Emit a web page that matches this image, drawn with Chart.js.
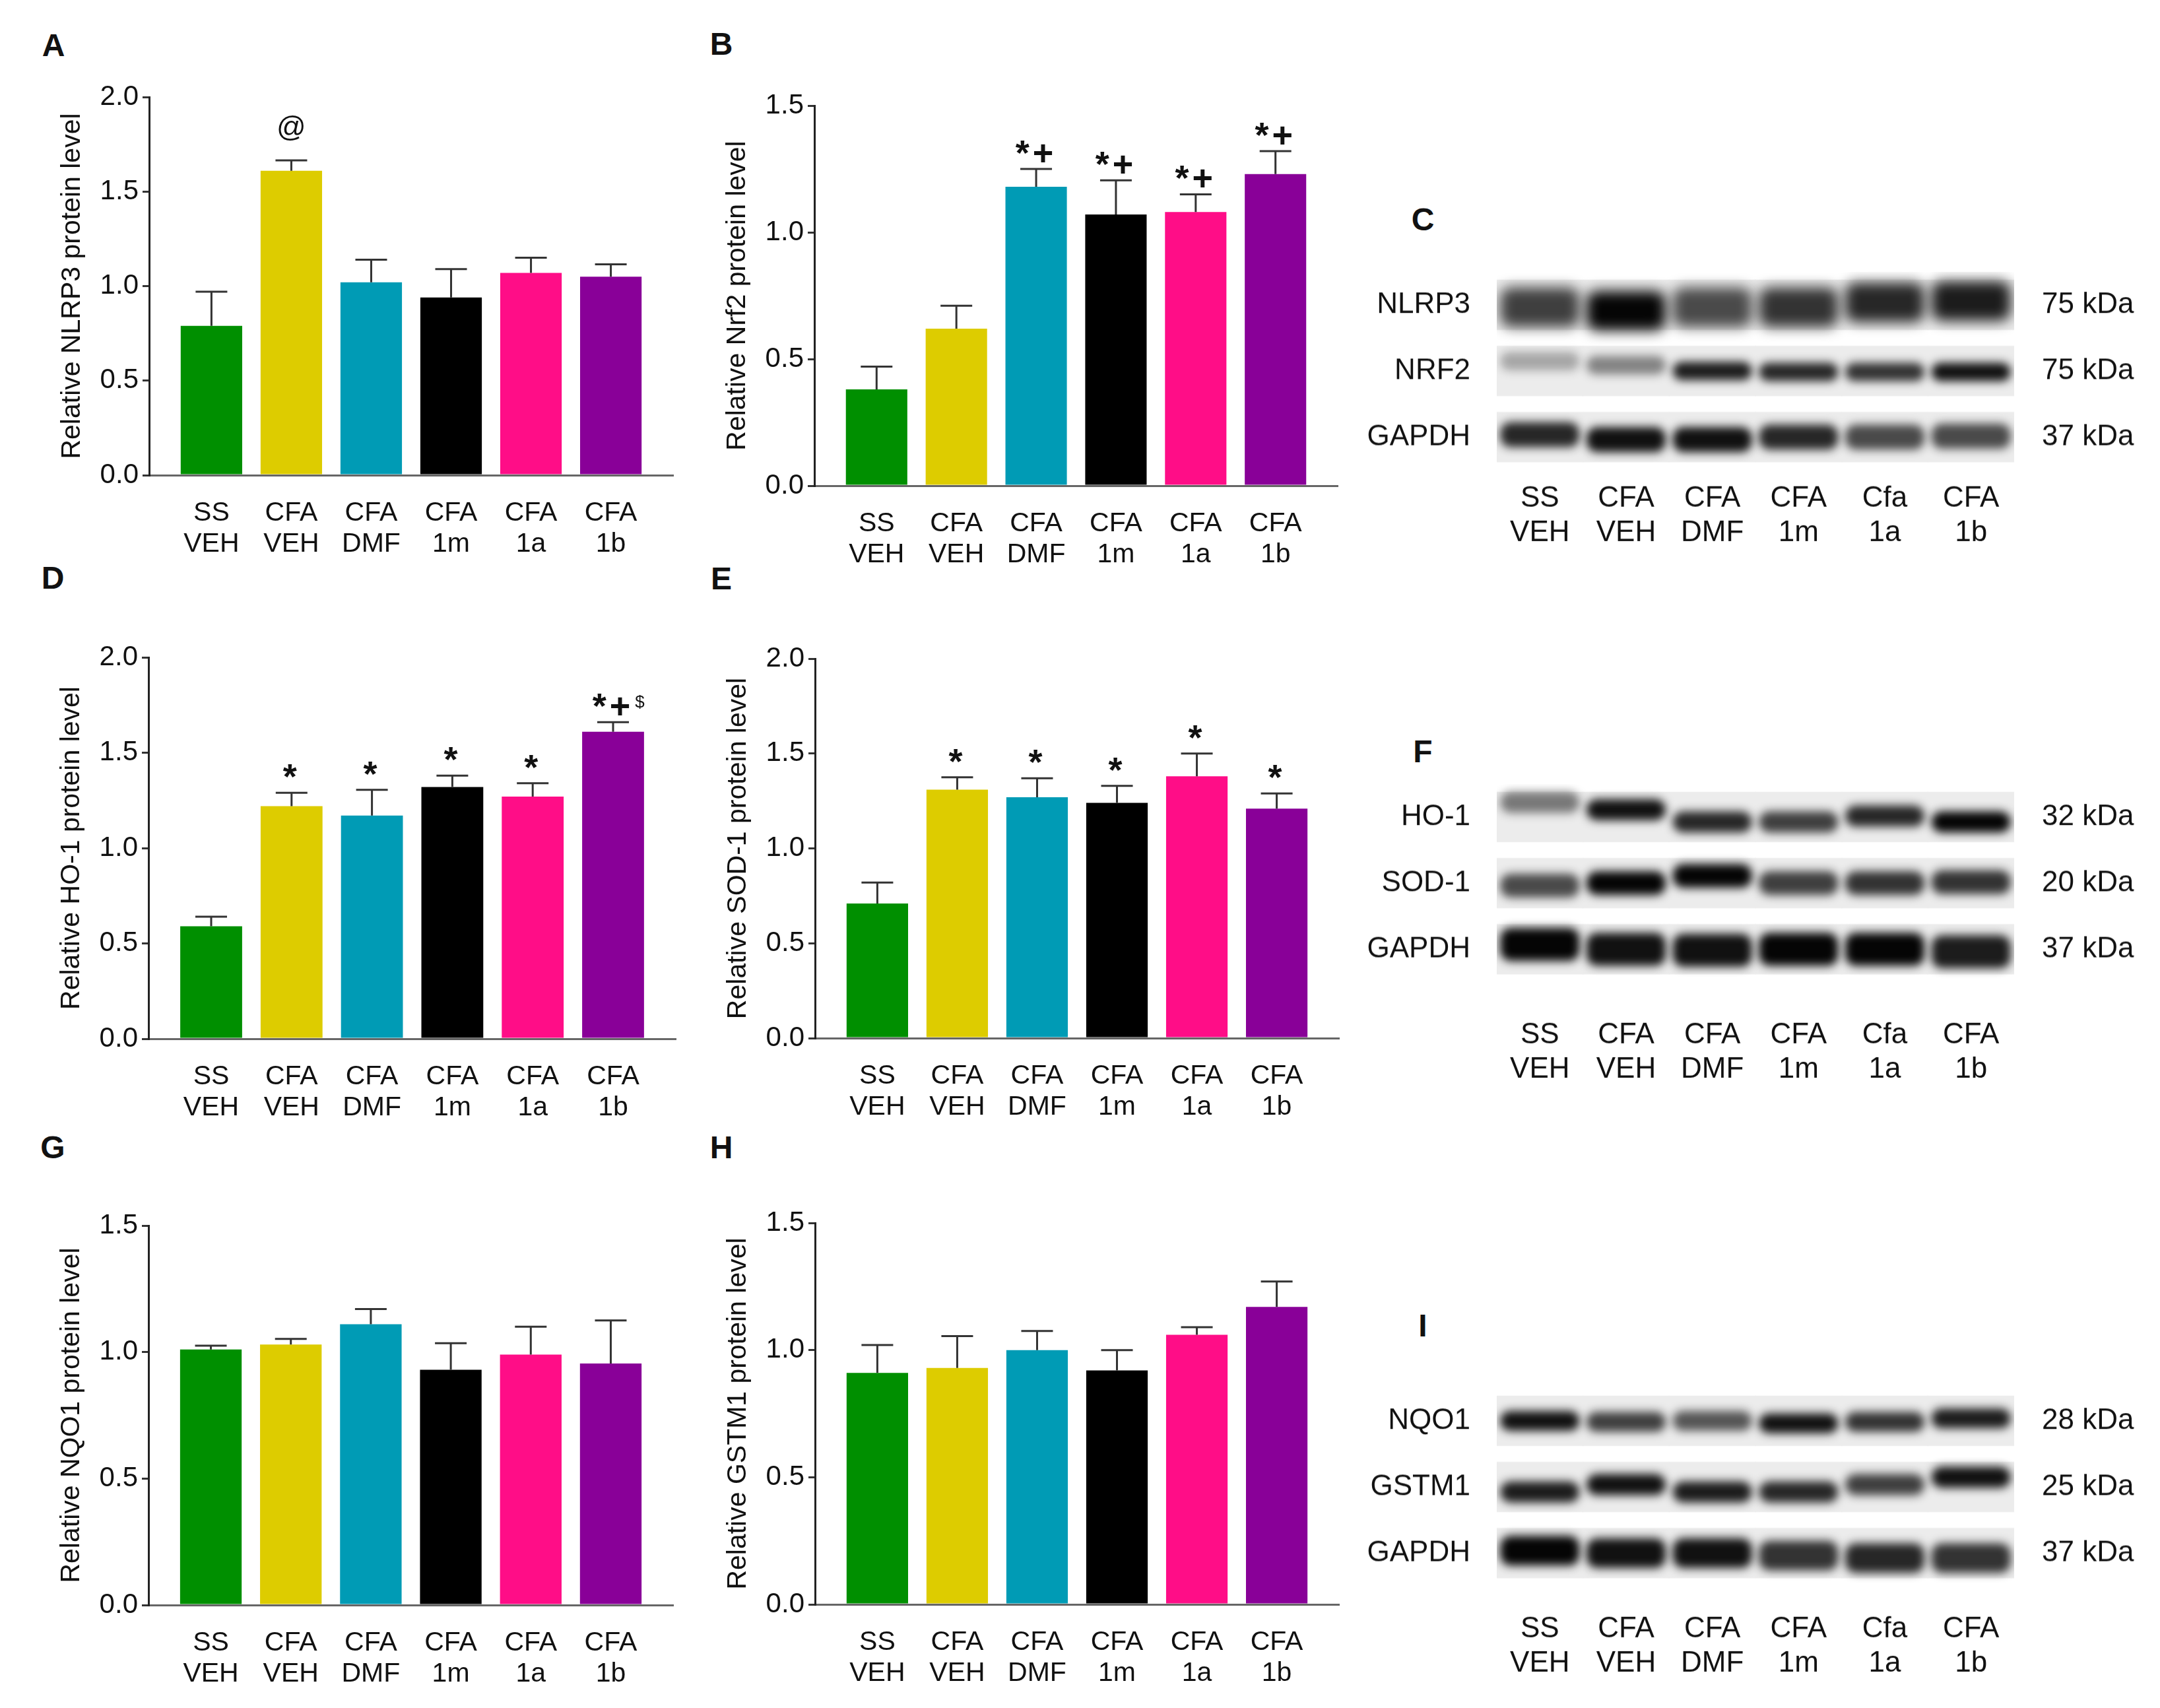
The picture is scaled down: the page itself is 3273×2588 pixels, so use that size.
<!DOCTYPE html>
<html>
<head>
<meta charset="utf-8">
<script src="https://cdn.jsdelivr.net/npm/chart.js@4.4.0/dist/chart.umd.min.js"></script>
<style>
  body { margin: 0; background: #fff; }
  #page { position: relative; width: 3273px; height: 2588px; background: #fff; overflow: hidden;
          font-family: "Liberation Sans", Arial, sans-serif; color: #111; }
  .box { position: absolute; }
  .letter { position: absolute; font-weight: bold; font-size: 48px; transform: translate(-50%, -50%); }
</style>
</head>
<body>
<div id="page">
  <div class="letter" style="left:81px;top:68px">A</div>
  <div class="letter" style="left:1093px;top:66px">B</div>
  <div class="letter" style="left:2156px;top:332px">C</div>
  <div class="letter" style="left:80px;top:875px">D</div>
  <div class="letter" style="left:1093px;top:876px">E</div>
  <div class="letter" style="left:2156px;top:1138px">F</div>
  <div class="letter" style="left:80px;top:1738px">G</div>
  <div class="letter" style="left:1093px;top:1738px">H</div>
  <div class="letter" style="left:2156px;top:2008px">I</div>
</div>
<script>
// groups on the x axis of the bar panels
const groups = [['SS', 'VEH'], ['CFA', 'VEH'], ['CFA', 'DMF'], ['CFA', '1m'], ['CFA', '1a'], ['CFA', '1b']];
const blotLanes = [['SS', 'VEH'], ['CFA', 'VEH'], ['CFA', 'DMF'], ['CFA', '1m'], ['Cfa', '1a'], ['CFA', '1b']];
const barColors = ['#008f00', '#ddcc00', '#009bb5', '#000000', '#ff0d87', '#890098'];

// relative protein levels (mean) and SEM
const nlrp3Mean = [0.79, 1.61, 1.02, 0.94, 1.07, 1.05];
const nlrp3Sem = [0.18, 0.055, 0.12, 0.15, 0.08, 0.065];
const nlrp3Marks = ['', '@', '', '', '', ''];

const nrf2Mean = [0.38, 0.62, 1.18, 1.07, 1.08, 1.23];
const nrf2Sem = [0.09, 0.09, 0.07, 0.135, 0.07, 0.09];
const nrf2Marks = ['', '', '*+', '*+', '*+', '*+'];

const ho1Mean = [0.59, 1.22, 1.17, 1.32, 1.27, 1.61];
const ho1Sem = [0.05, 0.07, 0.135, 0.06, 0.07, 0.05];
const ho1Marks = ['', '*', '*', '*', '*', '*+'];
const ho1Sup = ['', '', '', '', '', '$'];

const sod1Mean = [0.71, 1.31, 1.27, 1.24, 1.38, 1.21];
const sod1Sem = [0.11, 0.065, 0.1, 0.09, 0.12, 0.08];
const sod1Marks = ['', '*', '*', '*', '*', '*'];

const nqo1Mean = [1.01, 1.03, 1.11, 0.93, 0.99, 0.955];
const nqo1Sem = [0.015, 0.022, 0.06, 0.105, 0.11, 0.17];

const gstm1Mean = [0.91, 0.93, 1.0, 0.92, 1.06, 1.17];
const gstm1Sem = [0.11, 0.125, 0.075, 0.08, 0.03, 0.10];

const yTicks2 = [0, 0.5, 1.0, 1.5, 2.0];
const yTicks15 = [0, 0.5, 1.0, 1.5];

// western blot band intensities (0-1) and band shift within the strip
const blotRowsC = ['NLRP3', 'NRF2', 'GAPDH'];
const blotKdaC = ['75 kDa', '75 kDa', '37 kDa'];
const nlrp3Band = [0.75, 1.0, 0.7, 0.8, 0.85, 0.9];
const nlrp3Shift = [0.05, 0.12, 0.05, 0.05, -0.05, -0.08];
const nrf2Band = [0.3, 0.45, 0.9, 0.85, 0.8, 0.95];
const nrf2Shift = [-0.2, -0.12, 0.0, 0.02, 0.02, 0.02];
const gapdhBandC = [0.85, 0.95, 0.95, 0.85, 0.7, 0.7];
const gapdhShiftC = [-0.05, 0.05, 0.05, 0.0, 0.0, -0.02];

const blotRowsF = ['HO-1', 'SOD-1', 'GAPDH'];
const blotKdaF = ['32 kDa', '20 kDa', '37 kDa'];
const ho1Band = [0.5, 0.95, 0.85, 0.75, 0.85, 1.0];
const ho1Shift = [-0.3, -0.15, 0.1, 0.1, -0.02, 0.1];
const sod1Band = [0.7, 1.0, 1.0, 0.75, 0.8, 0.8];
const sod1Shift = [0.05, 0.0, -0.15, 0.0, 0.0, -0.02];
const gapdhBandF = [1.0, 0.95, 0.95, 1.0, 1.0, 0.9];
const gapdhShiftF = [-0.1, 0.0, 0.02, 0.0, 0.0, 0.05];

const blotRowsI = ['NQO1', 'GSTM1', 'GAPDH'];
const blotKdaI = ['28 kDa', '25 kDa', '37 kDa'];
const nqo1Band = [0.95, 0.75, 0.65, 0.95, 0.8, 0.9];
const nqo1Shift = [0.0, 0.02, 0.0, 0.05, 0.02, -0.05];
const gstm1Band = [0.9, 0.95, 0.9, 0.85, 0.75, 0.95];
const gstm1Shift = [0.1, -0.05, 0.1, 0.1, -0.05, -0.2];
const gapdhBandI = [1.0, 0.95, 0.95, 0.8, 0.85, 0.8];
const gapdhShiftI = [-0.05, 0.0, 0.0, 0.05, 0.1, 0.1];

const FONT = '"Liberation Sans", Arial, sans-serif';
const page = document.getElementById('page');

function addCanvas(left, top, w, h) {
  const div = document.createElement('div');
  div.className = 'box';
  div.style.left = left + 'px';
  div.style.top = top + 'px';
  const c = document.createElement('canvas');
  c.width = w; c.height = h;
  c.style.width = w + 'px'; c.style.height = h + 'px';
  div.appendChild(c);
  page.appendChild(div);
  return c;
}

// error bars (upper only) + significance marks
const errorBars = {
  id: 'errorBars',
  afterDatasetsDraw(chart) {
    const ds = chart.data.datasets[0];
    const meta = chart.getDatasetMeta(0);
    const y = chart.scales.y;
    const ctx = chart.ctx;
    ctx.save();
    meta.data.forEach((bar, i) => {
      const top = y.getPixelForValue(ds.data[i].y + ds.sem[i]);
      ctx.strokeStyle = '#333';
      ctx.lineWidth = 3;
      ctx.beginPath();
      ctx.moveTo(bar.x, bar.y);
      ctx.lineTo(bar.x, top);
      ctx.moveTo(bar.x - 24, top);
      ctx.lineTo(bar.x + 24, top);
      ctx.stroke();
      const mark = ds.marks ? ds.marks[i] : '';
      if (mark) {
        ctx.fillStyle = '#111';
        ctx.textAlign = 'center';
        ctx.textBaseline = 'alphabetic';
        ctx.letterSpacing = mark === '@' ? '0px' : '5px';
        ctx.font = mark === '@' ? '44px ' + FONT : 'bold 54px ' + FONT;
        const base = top - (mark === '@' ? 36 : 6);
        ctx.fillText(mark, bar.x, base);
        const sup = ds.sups ? ds.sups[i] : '';
        if (sup) {
          const w = ctx.measureText(mark).width;
          ctx.letterSpacing = '0px';
          ctx.font = '26px ' + FONT;
          ctx.textAlign = 'left';
          ctx.fillText(sup, bar.x + w / 2 + 2, base - 16);
        }
      }
    });
    ctx.restore();
  }
};

function barPanel(rect, title, yMax, mean, sem, marks, sups) {
  const padL = 210, padT = 60, padR = 30, padB = 140;
  const canvas = addCanvas(rect.x - padL, rect.y - padT, rect.w + padL + padR, rect.h + padT + padB);
  new Chart(canvas, {
    type: 'bar',
    data: {
      datasets: [{
        data: mean.map((v, i) => ({ x: i, y: v })),
        sem: sem,
        marks: marks,
        sups: sups,
        backgroundColor: barColors,
        borderWidth: 0,
        barPercentage: 0.77,
        categoryPercentage: 1
      }]
    },
    options: {
      responsive: false,
      maintainAspectRatio: false,
      animation: false,
      devicePixelRatio: 1,
      layout: { padding: { left: 0, top: padT, right: padR, bottom: 0 } },
      plugins: { legend: { display: false }, tooltip: { enabled: false } },
      scales: {
        x: {
          type: 'linear',
          min: -0.78,
          max: 5.78,
          offset: false,
          afterFit: s => { s.height = padB; },
          grid: { display: false },
          border: { display: true, color: '#666', width: 3 },
          ticks: {
            stepSize: 1,
            includeBounds: false,
            autoSkip: false,
            maxRotation: 0,
            padding: 26,
            color: '#111',
            font: { family: FONT, size: 41, lineHeight: 1.15 },
            callback: v => (Number.isInteger(v) && v >= 0 && v < groups.length) ? groups[v] : ''
          }
        },
        y: {
          min: 0,
          max: yMax,
          afterFit: s => { s.width = padL; },
          afterBuildTicks: s => { s.ticks = (yMax === 2 ? yTicks2 : yTicks15).map(v => ({ value: v })); },
          grid: { display: true, drawOnChartArea: false, drawTicks: true, tickLength: 10, color: '#333', lineWidth: 3 },
          border: { display: true, color: '#222', width: 3 },
          ticks: {
            padding: 6,
            color: '#111',
            font: { family: FONT, size: 42 },
            callback: v => v.toFixed(1)
          },
          title: {
            display: true,
            text: title,
            color: '#111',
            font: { family: FONT, size: 41, lineHeight: 1.2 },
            padding: { top: 69, bottom: 0 }
          }
        }
      }
    },
    plugins: [errorBars]
  });
}

barPanel({ x: 226, y: 147, w: 794, h: 573 }, 'Relative NLRP3 protein level', 2, nlrp3Mean, nlrp3Sem, nlrp3Marks, null);
barPanel({ x: 1234, y: 160, w: 793, h: 576 }, 'Relative Nrf2 protein level', 1.5, nrf2Mean, nrf2Sem, nrf2Marks, null);
barPanel({ x: 225, y: 996, w: 799, h: 578 }, 'Relative HO-1 protein level', 2, ho1Mean, ho1Sem, ho1Marks, ho1Sup);
barPanel({ x: 1235, y: 998, w: 794, h: 575 }, 'Relative SOD-1 protein level', 2, sod1Mean, sod1Sem, sod1Marks, null);
barPanel({ x: 225, y: 1857, w: 795, h: 575 }, 'Relative NQO1 protein level', 1.5, nqo1Mean, nqo1Sem, null, null);
barPanel({ x: 1235, y: 1853, w: 794, h: 578 }, 'Relative GSTM1 protein level', 1.5, gstm1Mean, gstm1Sem, null, null);

// soft edges for blot bands
const blurBands = {
  id: 'blurBands',
  beforeDatasetDraw(chart, args) {
    const ds = chart.data.datasets[args.index];
    chart.ctx.save();
    if (ds.blur) chart.ctx.filter = 'blur(' + ds.blur + 'px)';
  },
  afterDatasetDraw(chart) {
    chart.ctx.restore();
  }
};

function blotPanel(stripTop, rows, kda, bands, shifts, thick, labelPad) {
  const areaH = 300, areaW = 784, areaLeft = 2268;
  const padL = 208, padR = 221, padT = 10, padB = 200;
  const canvas = addCanvas(2060, stripTop - 13 - padT, padL + areaW + padR, padT + areaH + padB);
  const datasets = [];
  rows.forEach((r, k) => {
    datasets.push({
      data: blotLanes.map(() => [k + 0.13, k + 0.87]),
      backgroundColor: '#ececec',
      borderWidth: 0,
      barPercentage: 1,
      categoryPercentage: 1,
      inflateAmount: 1,
      grouped: false,
      order: 2
    });
    const hh = thick[k] / 2;
    datasets.push({
      data: bands[k].map((b, i) => {
        const c = k + 0.5 + shifts[k][i] * 0.74;
        return [c - hh, c + hh];
      }),
      backgroundColor: bands[k].map(b => 'rgba(5,5,5,' + b + ')'),
      borderWidth: 0,
      borderRadius: 16,
      borderSkipped: false,
      barPercentage: 0.92,
      categoryPercentage: 1,
      grouped: false,
      blur: k === 0 && rows[0] === 'NLRP3' ? 10 : 7,
      order: 1
    });
  });
  const rowTicks = s => { s.ticks = [0.5, 1.5, 2.5].map(v => ({ value: v })); };
  const chart = new Chart(canvas, {
    type: 'bar',
    data: { labels: blotLanes, datasets: datasets },
    options: {
      responsive: false,
      maintainAspectRatio: false,
      animation: false,
      devicePixelRatio: 1,
      layout: { padding: { left: 0, top: padT, right: 0, bottom: 0 } },
      plugins: { legend: { display: false }, tooltip: { enabled: false } },
      scales: {
        x: {
          afterFit: s => { s.height = padB; },
          grid: { display: false },
          border: { display: false },
          ticks: {
            padding: labelPad,
            autoSkip: false,
            maxRotation: 0,
            color: '#111',
            font: { family: FONT, size: 44, lineHeight: 1.18 }
          }
        },
        y: {
          position: 'left',
          reverse: true,
          min: 0,
          max: 3,
          afterFit: s => { s.width = padL; },
          afterBuildTicks: rowTicks,
          grid: { display: false },
          border: { display: false },
          ticks: {
            padding: 32,
            color: '#111',
            font: { family: FONT, size: 44, lineHeight: 0.4 },
            callback: (v, i) => rows[i]
          }
        },
        y2: {
          position: 'right',
          reverse: true,
          min: 0,
          max: 3,
          afterFit: s => { s.width = padR; },
          afterBuildTicks: rowTicks,
          grid: { display: false },
          border: { display: false },
          ticks: {
            padding: 34,
            color: '#111',
            font: { family: FONT, size: 44, lineHeight: 0.4 },
            callback: (v, i) => kda[i]
          }
        }
      }
    },
    plugins: [blurBands]
  });
  // pin the plot area onto the strip position of the figure
  let ca = chart.chartArea;
  const dh = areaH - (ca.bottom - ca.top);
  if (Math.abs(dh) > 0.5) {
    const h = canvas.height + dh;
    chart.canvas.parentNode.style.height = h + 'px';
    chart.resize(canvas.width, h);
    ca = chart.chartArea;
  }
  const div = canvas.parentNode;
  div.style.top = (stripTop - 13 - ca.top) + 'px';
  div.style.left = (areaLeft - ca.left) + 'px';
}

blotPanel(425, blotRowsC, blotKdaC,
  [nlrp3Band, nrf2Band, gapdhBandC], [nlrp3Shift, nrf2Shift, gapdhShiftC], [0.6, 0.28, 0.38], 9);
blotPanel(1201, blotRowsF, blotKdaF,
  [ho1Band, sod1Band, gapdhBandF], [ho1Shift, sod1Shift, gapdhShiftF], [0.32, 0.36, 0.5], 46);
blotPanel(2116, blotRowsI, blotKdaI,
  [nqo1Band, gstm1Band, gapdhBandI], [nqo1Shift, gstm1Shift, gapdhShiftI], [0.3, 0.32, 0.45], 31);
</script>
</body>
</html>
